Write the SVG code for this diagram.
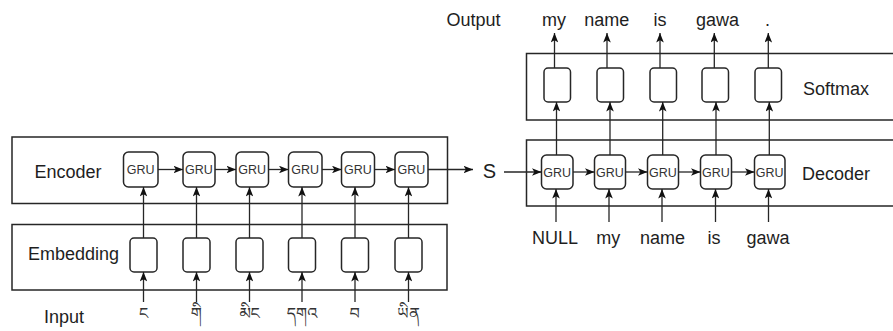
<svg xmlns="http://www.w3.org/2000/svg" width="893" height="331" viewBox="0 0 893 331">
  <style>
    .frame { fill: #ffffff; stroke: #262626; stroke-width: 1.5; }
    .cell { fill: #ffffff; stroke: #262626; stroke-width: 1.5; }
    .lbl { font-family: "Liberation Sans", Arial, sans-serif; font-size: 18px; fill: #1e1e1e; text-anchor: middle; }
    .gru { font-family: "Liberation Sans", Arial, sans-serif; font-size: 12.5px; fill: #333333; text-anchor: middle; }
    .tib { font-family: "Noto Sans Tibetan", "Noto Serif Tibetan", "Jomolhari", "Microsoft Himalaya", sans-serif; font-size: 16px; fill: #333333; text-anchor: middle; }
    .wire { fill: none; stroke: #262626; stroke-width: 1.3; marker-end: url(#head); }
  </style>
  <defs>
    <marker id="head" viewBox="0 0 10 8" refX="10" refY="4" markerWidth="9.5" markerHeight="7.6" markerUnits="userSpaceOnUse" orient="auto">
      <path d="M0,0 L10,4 L0,8 L2.5,4 Z" fill="#111111"/>
    </marker>
  </defs>

  <!-- containers -->
  <g id="encoder">
    <rect class="frame" x="12" y="137" width="435.5" height="66.5"/>
    <text class="lbl" x="68" y="177.5">Encoder</text>
  </g>
  <g id="embedding">
    <rect class="frame" x="12" y="224.5" width="435" height="65.5"/>
    <text class="lbl" x="73.5" y="260">Embedding</text>
  </g>
  <g id="softmax">
    <rect class="frame" x="526.5" y="53.5" width="380" height="66.5"/>
    <text class="lbl" x="836" y="94.5">Softmax</text>
  </g>
  <g id="decoder">
    <rect class="frame" x="526.5" y="140" width="380" height="66"/>
    <text class="lbl" x="836" y="179.5">Decoder</text>
  </g>

  <!-- side labels -->
  <g id="input-label"><text class="lbl" x="64" y="323">Input</text></g>
  <g id="output-label"><text class="lbl" x="473.5" y="25.5">Output</text></g>
  <g id="state"><text class="lbl" x="489.5" y="178" style="font-size:20px">S</text></g>

  <!-- encoder GRU cells -->
  <g id="enc-gru-1"><rect class="cell" x="123.5" y="152" width="34.5" height="35" rx="5"/><text class="gru" x="140.7" y="174">GRU</text></g>
  <g id="enc-gru-2"><rect class="cell" x="183" y="152" width="32" height="35" rx="5"/><text class="gru" x="199" y="174">GRU</text></g>
  <g id="enc-gru-3"><rect class="cell" x="236" y="152" width="32.5" height="35" rx="5"/><text class="gru" x="252.2" y="174">GRU</text></g>
  <g id="enc-gru-4"><rect class="cell" x="288.5" y="152" width="33.5" height="35" rx="5"/><text class="gru" x="305.2" y="174">GRU</text></g>
  <g id="enc-gru-5"><rect class="cell" x="341.5" y="152" width="33" height="35" rx="5"/><text class="gru" x="358" y="174">GRU</text></g>
  <g id="enc-gru-6"><rect class="cell" x="395" y="152" width="33" height="35" rx="5"/><text class="gru" x="411.5" y="174">GRU</text></g>

  <!-- embedding cells -->
  <g id="emb-1"><rect class="cell" x="130" y="238" width="27" height="34" rx="4"/></g>
  <g id="emb-2"><rect class="cell" x="183" y="238" width="27" height="34" rx="4"/></g>
  <g id="emb-3"><rect class="cell" x="236" y="238" width="27" height="34" rx="4"/></g>
  <g id="emb-4"><rect class="cell" x="288.5" y="238" width="27" height="34" rx="4"/></g>
  <g id="emb-5"><rect class="cell" x="341.5" y="238" width="27" height="34" rx="4"/></g>
  <g id="emb-6"><rect class="cell" x="395" y="238" width="27" height="34" rx="4"/></g>

  <!-- input tokens -->
  <g id="tok-in-1"><text class="tib" x="143.5" y="318.5">ང</text></g>
  <g id="tok-in-2"><text class="tib" x="196.5" y="318.5">གི</text></g>
  <g id="tok-in-3"><text class="tib" x="249.5" y="318.5">མིང</text></g>
  <g id="tok-in-4"><text class="tib" x="302" y="318.5">དགའ</text></g>
  <g id="tok-in-5"><text class="tib" x="355" y="318.5">བ</text></g>
  <g id="tok-in-6"><text class="tib" x="408.5" y="318.5">ཡིན</text></g>

  <!-- decoder GRU cells -->
  <g id="dec-gru-1"><rect class="cell" x="541.5" y="155" width="31.5" height="34" rx="5"/><text class="gru" x="557.2" y="177">GRU</text></g>
  <g id="dec-gru-2"><rect class="cell" x="594.5" y="155" width="31" height="34" rx="5"/><text class="gru" x="610" y="177">GRU</text></g>
  <g id="dec-gru-3"><rect class="cell" x="647.5" y="155" width="31" height="34" rx="5"/><text class="gru" x="663" y="177">GRU</text></g>
  <g id="dec-gru-4"><rect class="cell" x="700.5" y="155" width="31" height="34" rx="5"/><text class="gru" x="716" y="177">GRU</text></g>
  <g id="dec-gru-5"><rect class="cell" x="754.5" y="155" width="30.5" height="34" rx="5"/><text class="gru" x="769.7" y="177">GRU</text></g>

  <!-- softmax cells -->
  <g id="sm-1"><rect class="cell" x="544" y="68" width="26.5" height="34" rx="4"/></g>
  <g id="sm-2"><rect class="cell" x="597" y="68" width="26.5" height="34" rx="4"/></g>
  <g id="sm-3"><rect class="cell" x="650" y="68" width="26.5" height="34" rx="4"/></g>
  <g id="sm-4"><rect class="cell" x="702" y="68" width="26.5" height="34" rx="4"/></g>
  <g id="sm-5"><rect class="cell" x="755" y="68" width="26.5" height="34" rx="4"/></g>

  <!-- decoder input tokens -->
  <g id="tok-dec-1"><text class="lbl" x="555" y="243.5">NULL</text></g>
  <g id="tok-dec-2"><text class="lbl" x="608.3" y="243.5">my</text></g>
  <g id="tok-dec-3"><text class="lbl" x="662.5" y="243.5">name</text></g>
  <g id="tok-dec-4"><text class="lbl" x="714" y="243.5">is</text></g>
  <g id="tok-dec-5"><text class="lbl" x="768" y="243.5">gawa</text></g>

  <!-- output tokens -->
  <g id="tok-out-1"><text class="lbl" x="554" y="25.5">my</text></g>
  <g id="tok-out-2"><text class="lbl" x="606.7" y="25.5">name</text></g>
  <g id="tok-out-3"><text class="lbl" x="660" y="25.5">is</text></g>
  <g id="tok-out-4"><text class="lbl" x="717.5" y="25.5">gawa</text></g>
  <g id="tok-out-5"><text class="lbl" x="767.5" y="25.5">.</text></g>

  <g id="connectors">
    <!-- encoder recurrence -->
    <path class="wire" d="M158,169.5 H183"/>
    <path class="wire" d="M215,169.5 H236"/>
    <path class="wire" d="M268.5,169.5 H288.5"/>
    <path class="wire" d="M322,169.5 H341.5"/>
    <path class="wire" d="M374.5,169.5 H395"/>
    <path class="wire" d="M428,169.5 H473"/>
    <!-- embedding to GRU -->
    <path class="wire" d="M143.5,238 V187"/>
    <path class="wire" d="M196.5,238 V187"/>
    <path class="wire" d="M249.5,238 V187"/>
    <path class="wire" d="M302,238 V187"/>
    <path class="wire" d="M355,238 V187"/>
    <path class="wire" d="M408.5,238 V187"/>
    <!-- input tokens to embedding -->
    <path class="wire" d="M143.5,302 V272"/>
    <path class="wire" d="M196.5,302 V272"/>
    <path class="wire" d="M249.5,302 V272"/>
    <path class="wire" d="M302,302 V272"/>
    <path class="wire" d="M355,302 V272"/>
    <path class="wire" d="M408.5,302 V272"/>
    <!-- state into decoder and decoder recurrence -->
    <path class="wire" d="M504,172 H541.5"/>
    <path class="wire" d="M573,172 H594.5"/>
    <path class="wire" d="M625.5,172 H647.5"/>
    <path class="wire" d="M678.5,172 H700.5"/>
    <path class="wire" d="M731.5,172 H754.5"/>
    <!-- decoder inputs -->
    <path class="wire" d="M556,222 V189"/>
    <path class="wire" d="M609,222 V189"/>
    <path class="wire" d="M662,222 V189"/>
    <path class="wire" d="M715.5,222 V189"/>
    <path class="wire" d="M768.5,222 V189"/>
    <!-- decoder to softmax -->
    <path class="wire" d="M556.5,155 V102"/>
    <path class="wire" d="M610,155 V102"/>
    <path class="wire" d="M662.7,155 V102"/>
    <path class="wire" d="M716,155 V102"/>
    <path class="wire" d="M769.3,155 V102"/>
    <!-- softmax to outputs -->
    <path class="wire" d="M554.5,68 V33"/>
    <path class="wire" d="M607,68 V33"/>
    <path class="wire" d="M660,68 V33"/>
    <path class="wire" d="M714.3,68 V33"/>
    <path class="wire" d="M768.3,68 V33"/>
  </g>
</svg>
